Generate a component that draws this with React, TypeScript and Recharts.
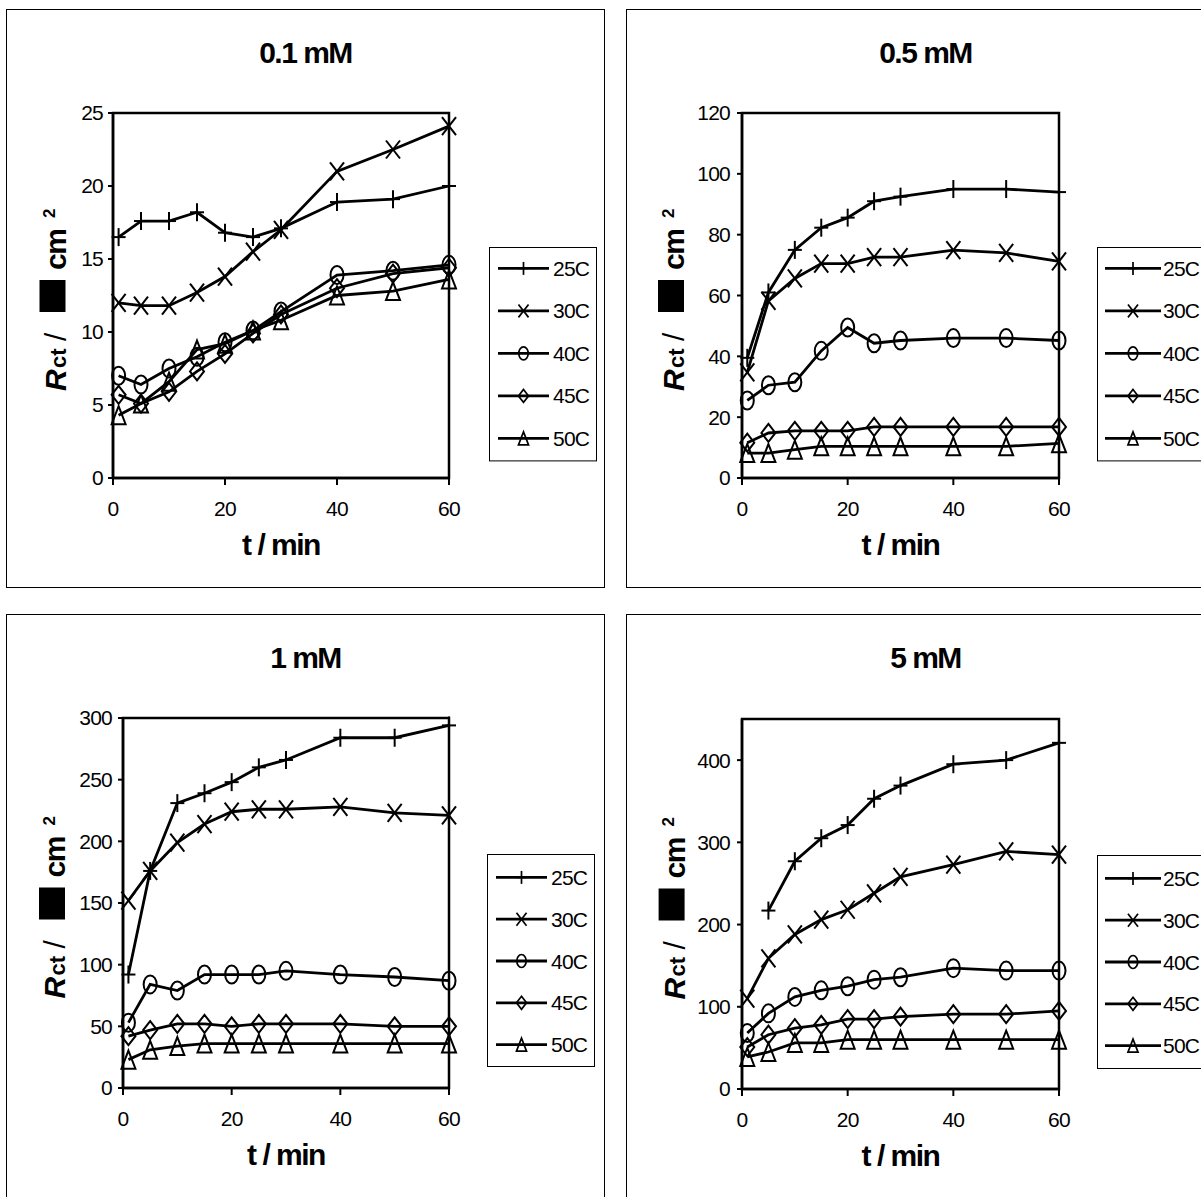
import React from 'react';
import { LineChart, Line, XAxis, YAxis, ReferenceArea, Legend } from 'recharts';

const FONT = '"Liberation Sans", Arial, Helvetica, sans-serif';

// time points (min)
const TIMES = [1, 5, 10, 15, 20, 25, 30, 40, 50, 60];
const SERIES_NAMES = ['25C', '30C', '40C', '45C', '50C'];
const SERIES_SHAPES = ['plus', 'cross', 'circle', 'diamond', 'triangle'];
const X_TICKS = [0, 20, 40, 60];

// 0.1 mM
const P01_TITLE = '0.1 mM';
const P01_Y_TICKS = [0, 5, 10, 15, 20, 25];
const P01_25C = [16.5, 17.6, 17.6, 18.2, 16.8, 16.5, 17.1, 18.9, 19.1, 20.0];
const P01_30C = [12.0, 11.8, 11.8, 12.7, 13.8, 15.5, 17.0, 21.0, 22.5, 24.1];
const P01_40C = [7.0, 6.4, 7.5, 8.3, 9.3, 10.1, 11.4, 13.9, 14.2, 14.6];
const P01_45C = [5.7, 5.1, 5.9, 7.3, 8.5, 9.9, 11.2, 13.0, 14.0, 14.4];
const P01_50C = [4.3, 5.1, 6.6, 8.8, 9.2, 10.1, 10.8, 12.5, 12.8, 13.6];

// 0.5 mM
const P05_TITLE = '0.5 mM';
const P05_Y_TICKS = [0, 20, 40, 60, 80, 100, 120];
const P05_25C = [39.5, 61, 75, 82.3, 85.6, 91, 92.5, 95, 95, 94];
const P05_30C = [34.7, 58.2, 65.6, 70.5, 70.5, 72.6, 72.6, 74.9, 74, 71.2];
const P05_40C = [25.5, 30.5, 31.5, 41.8, 49.5, 44.3, 45.2, 46, 46, 45.2];
const P05_45C = [11.6, 14.8, 15.5, 15.5, 15.5, 16.8, 16.8, 16.8, 16.8, 16.8];
const P05_50C = [8.2, 8.2, 9.3, 10.4, 10.4, 10.4, 10.4, 10.4, 10.4, 11.4];

// 1 mM
const P1_TITLE = '1 mM';
const P1_Y_TICKS = [0, 50, 100, 150, 200, 250, 300];
const P1_25C = [92, 176, 231, 239, 248, 260, 266, 284, 284, 294];
const P1_30C = [152, 176, 199, 214, 224, 226, 226, 228, 223, 221];
const P1_40C = [53, 84, 79, 92, 92, 92, 95, 92, 90, 87];
const P1_45C = [42, 47, 52, 52, 50, 52, 52, 52, 50, 50];
const P1_50C = [23, 31, 34, 36, 36, 36, 36, 36, 36, 36];

// 5 mM
const P5_TITLE = '5 mM';
const P5_Y_TICKS = [0, 100, 200, 300, 400];
const P5_25C = [null, 217, 277, 305, 321, 353, 369, 395, 400, 421];
const P5_30C = [110, 159, 188, 206, 218, 238, 258, 273, 289, 285];
const P5_40C = [68, 92, 112, 120, 125, 133, 136, 147, 144, 144];
const P5_45C = [51, 66, 74, 78, 85, 85, 88, 91, 91, 95];
const P5_50C = [39, 45, 56, 56, 60, 60, 60, 60, 60, 60];

type Shape = string;

function Marker({ shape, cx, cy, s }: { shape: Shape; cx: number; cy: number; s: number }) {
  const w = 7 * s;
  const h = 9 * s;
  const sw = s < 1 ? 1.7 : 2;
  const common = { stroke: '#000', strokeWidth: sw, fill: 'none' };
  if (shape === 'plus') {
    return (
      <g>
        <line x1={cx - w} y1={cy} x2={cx + w} y2={cy} {...common} />
        <line x1={cx} y1={cy - h} x2={cx} y2={cy + h} {...common} />
      </g>
    );
  }
  if (shape === 'cross') {
    return (
      <g>
        <line x1={cx - w} y1={cy - h} x2={cx + w} y2={cy + h} {...common} />
        <line x1={cx - w} y1={cy + h} x2={cx + w} y2={cy - h} {...common} />
      </g>
    );
  }
  if (shape === 'circle') {
    return <ellipse cx={cx} cy={cy} rx={w * 0.93} ry={h} {...common} />;
  }
  if (shape === 'diamond') {
    return (
      <polygon
        points={`${cx},${cy - h} ${cx + w},${cy} ${cx},${cy + h} ${cx - w},${cy}`}
        {...common}
      />
    );
  }
  return (
    <polygon
      points={`${cx},${cy - h} ${cx + w},${cy + h} ${cx - w},${cy + h}`}
      {...common}
    />
  );
}

const makeDot = (shape: Shape) => (props: any) => {
  const { cx, cy, index } = props;
  const key = `dot-${shape}-${index}`;
  if (typeof cx !== 'number' || typeof cy !== 'number' || isNaN(cx) || isNaN(cy) || props.value == null) {
    return <g key={key} />;
  }
  return (
    <g key={key}>
      <Marker shape={shape} cx={cx} cy={cy} s={1} />
    </g>
  );
};

function YTitle(props: any) {
  const { bx, cy } = props;
  return (
    <g transform={`translate(${bx},${cy}) rotate(-90)`} fill="#000" fontFamily={FONT}>
      <text x={-95.5} y={0} fontSize={30} fontWeight="bold" fontStyle="italic">R</text>
      <text x={-72.5} y={0} fontSize={22} fontWeight="bold">ct</text>
      <text x={-45.5} y={0} fontSize={30}>/</text>
      <rect x={-16.5} y={-26} width={32} height={26} fill="#000" />
      <text x={25.5} y={0} fontSize={30} fontWeight="bold" letterSpacing={-1.5}>cm</text>
      <text x={77.5} y={-10.5} fontSize={17} fontWeight="bold">2</text>
    </g>
  );
}

function XTitle(props: any) {
  const { tx, ty } = props;
  return (
    <text x={tx} y={ty} textAnchor="middle" fontFamily={FONT} fontSize={30} fontWeight="bold" letterSpacing={-1.5} fill="#000">
      t / min
    </text>
  );
}

const makeLegend = (lg: any) => () => (
  <svg width={lg.w} height={lg.h} style={{ display: 'block', overflow: 'visible' }}>
    <rect x={0.5} y={0.5} width={lg.w - 1} height={lg.h - 1} fill="#fff" stroke="#000" strokeWidth={1} />
    {SERIES_NAMES.map((n, k) => {
      const y = lg.first + k * lg.step;
      return (
        <g key={n}>
          <line x1={lg.lx1} x2={lg.lx2} y1={y} y2={y} stroke="#000" strokeWidth={2.8} />
          <Marker shape={SERIES_SHAPES[k]} cx={(lg.lx1 + lg.lx2) / 2} cy={y} s={0.72} />
          <text x={lg.tx} y={y} dy="0.36em" fontFamily={FONT} fontSize={21} letterSpacing={-0.8} fill="#000">
            {n}
          </text>
        </g>
      );
    })}
  </svg>
);

const PANELS = [
  {
    title: P01_TITLE, series: [P01_25C, P01_30C, P01_40C, P01_45C, P01_50C], yTicks: P01_Y_TICKS, yMax: 25,
    x: 6, y: 9, w: 599, h: 579, plot: { left: 107, right: 443, top: 104, bottom: 469 }, bx: 59.5, tickMargin: 5,
    legend: { left: 483, top: 237.6, w: 108, h: 214.4, first: 21.4, step: 42.5, lx1: 9, lx2: 60, tx: 64 },
  },
  {
    title: P05_TITLE, series: [P05_25C, P05_30C, P05_40C, P05_45C, P05_50C], yTicks: P05_Y_TICKS, yMax: 120,
    x: 626, y: 9, w: 599, h: 579, plot: { left: 116, right: 433, top: 104, bottom: 469 }, bx: 58, tickMargin: 7,
    legend: { left: 471, top: 237.6, w: 110, h: 214.4, first: 21.4, step: 42.5, lx1: 8, lx2: 64, tx: 66 },
  },
  {
    title: P1_TITLE, series: [P1_25C, P1_30C, P1_40C, P1_45C, P1_50C], yTicks: P1_Y_TICKS, yMax: 300,
    x: 6, y: 614, w: 599, h: 590, plot: { left: 117, right: 443, top: 104, bottom: 474 }, bx: 59, tickMargin: 6,
    legend: { left: 481, top: 240, w: 108, h: 213, first: 23.4, step: 41.8, lx1: 9, lx2: 60, tx: 64 },
  },
  {
    title: P5_TITLE, series: [P5_25C, P5_30C, P5_40C, P5_45C, P5_50C], yTicks: P5_Y_TICKS, yMax: 450,
    x: 626, y: 614, w: 599, h: 590, plot: { left: 116, right: 433, top: 105, bottom: 475 }, bx: 58.6, tickMargin: 7,
    legend: { left: 471, top: 241, w: 110, h: 214, first: 23.4, step: 41.8, lx1: 8, lx2: 64, tx: 66 },
  },
];

function Panel({ cfg }: { cfg: any }) {
  const data = TIMES.map((t, i) => {
    const row: any = { t };
    cfg.series.forEach((arr: any[], k: number) => {
      row[SERIES_NAMES[k]] = arr[i];
    });
    return row;
  });
  const yAxisW = 60;
  const xAxisH = 60;
  const p = cfg.plot;
  const margin = {
    left: p.left - yAxisW,
    top: p.top,
    right: cfg.w - p.right,
    bottom: cfg.h - p.bottom - xAxisH,
  };
  const lg = cfg.legend;
  return (
    <div style={{ position: 'absolute', left: cfg.x, top: cfg.y, width: cfg.w, height: cfg.h }}>
      <div
        style={{
          position: 'absolute', left: 0, top: 0, width: cfg.w, height: cfg.h,
          border: '1px solid #000', boxSizing: 'border-box',
        }}
      />
      <div
        style={{
          position: 'absolute', left: 0, top: 29, width: cfg.w, textAlign: 'center',
          fontFamily: FONT, fontSize: 30, fontWeight: 'bold', lineHeight: '30px', letterSpacing: -1.5, color: '#000',
        }}
      >
        {cfg.title}
      </div>
      <div style={{ position: 'absolute', left: 0, top: 0 }}>
        <LineChart width={cfg.w} height={cfg.h} data={data} margin={margin}>
          <XAxis
            dataKey="t"
            type="number"
            domain={[0, 60]}
            ticks={X_TICKS}
            interval={0}
            height={xAxisH}
            tickSize={7}
            tickMargin={16}
            axisLine={{ stroke: '#000', strokeWidth: 2.5 }}
            tickLine={{ stroke: '#000', strokeWidth: 2 }}
            tick={{ fill: '#000', fontSize: 21, fontFamily: FONT, letterSpacing: -0.8 }}
            label={<XTitle tx={(p.left + p.right) / 2} ty={p.bottom + 77} />}
          />
          <YAxis
            type="number"
            domain={[0, cfg.yMax]}
            ticks={cfg.yTicks}
            interval={0}
            width={yAxisW}
            tickSize={5}
            tickMargin={cfg.tickMargin}
            axisLine={{ stroke: '#000', strokeWidth: 2.5 }}
            tickLine={{ stroke: '#000', strokeWidth: 2 }}
            tick={{ fill: '#000', fontSize: 21, fontFamily: FONT, letterSpacing: -0.8 }}
            label={<YTitle bx={cfg.bx} cy={(p.top + p.bottom) / 2} />}
          />
          <ReferenceArea
            x1={0}
            x2={60}
            y1={0}
            y2={cfg.yMax}
            fill="none"
            fillOpacity={0}
            stroke="#000"
            strokeWidth={2.5}
            ifOverflow="extendDomain"
          />
          {SERIES_NAMES.map((n, k) => (
            <Line
              key={n}
              dataKey={n}
              name={n}
              type="linear"
              stroke="#000"
              strokeWidth={2.8}
              dot={makeDot(SERIES_SHAPES[k])}
              activeDot={false}
              connectNulls={false}
              isAnimationActive={false}
            />
          ))}
          <Legend
            layout="horizontal"
            align="center"
            verticalAlign="middle"
            width={lg.w}
            height={lg.h}
            wrapperStyle={{ left: lg.left, top: lg.top, width: lg.w, height: lg.h }}
            content={makeLegend(lg)}
          />
        </LineChart>
      </div>
    </div>
  );
}

export default function App() {
  return (
    <div
      style={{
        position: 'absolute', left: 0, top: 0, width: 1201, height: 1197,
        overflow: 'hidden', background: '#fff',
      }}
    >
      {PANELS.map((cfg, i) => (
        <Panel key={i} cfg={cfg} />
      ))}
    </div>
  );
}
